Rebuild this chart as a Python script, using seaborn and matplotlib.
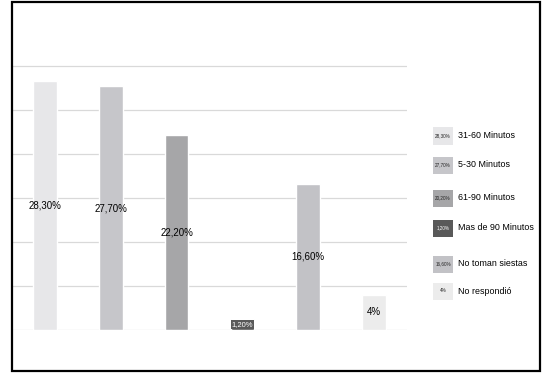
import matplotlib
matplotlib.use("Agg")
import matplotlib.pyplot as plt
from matplotlib.patches import Rectangle
import seaborn as sns
import pandas as pd

categories = ["31-60 Minutos", "5-30 Minutos", "61-90 Minutos",
              "Mas de 90 Minutos", "No toman siestas", "No respondió"]
values = [28.3, 27.7, 22.2, 1.2, 16.6, 4.0]
value_labels = ["28,30%", "27,70%", "22,20%", "1,20%", "16,60%", "4%"]
legend_tags = ["28,30%", "27,70%", "20,20%", "1,20%", "16,60%", "4%"]
colors = ["#e7e7e9", "#c6c6ca", "#a6a6a8", "#595959", "#c2c2c6", "#ececec"]


def main():
    sns.set_theme(style="white")
    plt.rcParams["font.family"] = ["Liberation Sans", "DejaVu Sans"]

    df = pd.DataFrame({"cat": categories, "val": values})

    fig = plt.figure(figsize=(5.44, 3.73), dpi=100)
    W, H = 544, 373
    # axes: left x=12, right x=407, baseline y=330, 8.8 px per unit
    top_px = 330 - 34 * 8.8
    ax = fig.add_axes([12 / W, (H - 330) / H, (407 - 12) / W, (330 - top_px) / H])

    sns.barplot(data=df, x="cat", y="val", hue="cat", palette=colors,
                width=0.36, legend=False, ax=ax, saturation=1)
    ax.set_ylim(0, 34)
    ax.set_xlim(-0.5, 5.5)
    ax.set_yticks([0, 5, 10, 15, 20, 25, 30])
    ax.yaxis.grid(True, color="#d9d9d9", linewidth=0.9)
    ax.set_axisbelow(True)
    ax.set_xticks([])
    ax.set_yticklabels([])
    ax.tick_params(left=False, bottom=False)
    ax.set_xlabel("")
    ax.set_ylabel("")
    for s in ax.spines.values():
        s.set_visible(False)

    for i, cont in enumerate(ax.containers):
        if i == 3:
            ax.bar_label(cont, labels=[value_labels[i]], label_type="center",
                         fontsize=5.5, color="white",
                         bbox=dict(facecolor="#595959", edgecolor="none", pad=0.6))
        else:
            ax.bar_label(cont, labels=[value_labels[i]], label_type="center",
                         fontsize=7, color="black")

    # outer frame
    fig.add_artist(Rectangle((12 / W, 2 / H), (540 - 12) / W, (371 - 2) / H,
                             transform=fig.transFigure, fill=False,
                             edgecolor="black", linewidth=1.6))

    # legend
    leg_y = [136, 165, 198, 228, 264, 291]
    for name, tag, col, y in zip(categories, legend_tags, colors, leg_y):
        fig.add_artist(Rectangle((433 / W, (H - y - 8.5) / H), 20 / W, 17 / H,
                                 transform=fig.transFigure, facecolor=col,
                                 edgecolor="none"))
        fig.text(443 / W, (H - y) / H, tag, fontsize=3.3, ha="center", va="center",
                 color="white" if col == "#595959" else "#222222")
        fig.text(458 / W, (H - y) / H, name, fontsize=6.4, ha="left", va="center",
                 color="black")

    fig.savefig("out.png", dpi=100)


if __name__ == "__main__":
    main()
